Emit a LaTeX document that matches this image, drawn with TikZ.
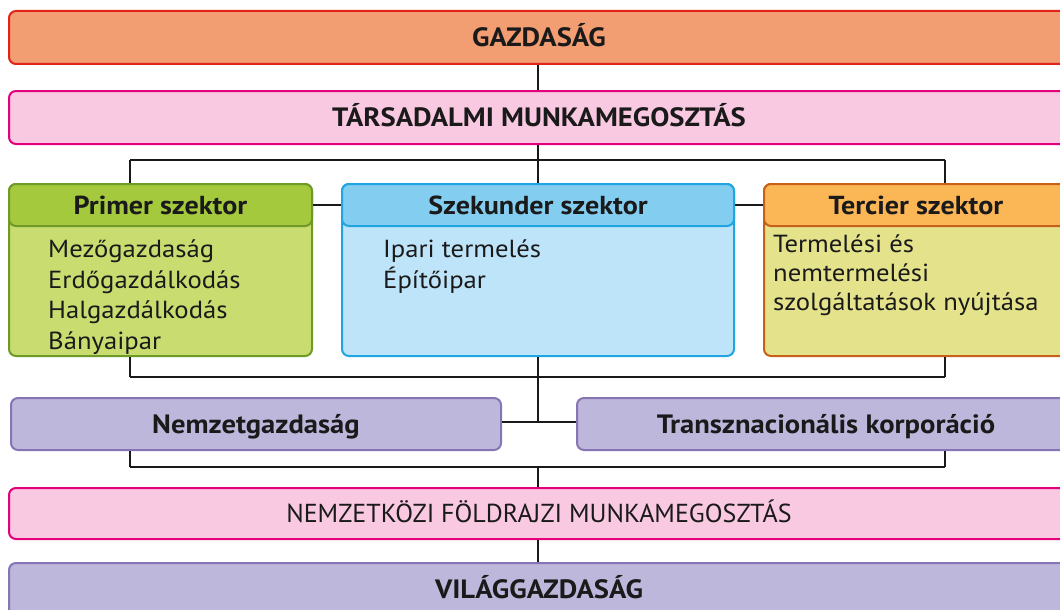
\documentclass[tikz,border=0pt]{standalone}
\usepackage{fontspec}
\setmainfont[FakeStretch=1.08]{PT Sans}
\newfontfamily\regfont{PT Sans}
\definecolor{txt}{HTML}{1A1A1A}
\definecolor{gazfill}{HTML}{F29D72}
\definecolor{gazdraw}{HTML}{E2231A}
\definecolor{pinkfill}{HTML}{F9C9E1}
\definecolor{pinkdraw}{HTML}{E4007D}
\definecolor{lavfill}{HTML}{BEB7DC}
\definecolor{lavdraw}{HTML}{8575B5}
\definecolor{grhead}{HTML}{A5C93D}
\definecolor{grbody}{HTML}{C8DC70}
\definecolor{grdraw}{HTML}{6F9A27}
\definecolor{blhead}{HTML}{83CDF1}
\definecolor{blbody}{HTML}{BEE4F9}
\definecolor{bldraw}{HTML}{20A5E0}
\definecolor{orhead}{HTML}{FBB656}
\definecolor{orbody}{HTML}{E4E38C}
\definecolor{ordraw}{HTML}{C7601B}
\tikzset{
  bar/.style={draw, line width=2pt, rounded corners=7pt, anchor=north west,
    inner sep=0pt, text=txt},
  bartext/.style={font=\bfseries\fontsize{26.5}{28}\selectfont, text height=18.5pt, text depth=0pt},
  conn/.style={draw=black!90, line width=1.6pt},
  bodytext/.style={anchor=north west, inner sep=0pt, align=left, text=txt,
    font=\fontsize{24.7}{30.4}\selectfont},
  headtext/.style={font=\bfseries\fontsize{26}{28}\selectfont, text height=18.2pt, text depth=0pt},
}
\begin{document}
\begin{tikzpicture}[x=1pt,y=-1pt]
\useasboundingbox (0,0) rectangle (1060,610);
\clip (0,0) rectangle (1060,610);
\fill[white] (0,0) rectangle (1060,610);

% connector coordinates
\coordinate (cx) at (538,0);
\coordinate (tl) at (130,160);
\coordinate (tr) at (945,160);
\coordinate (bl) at (130,377);
\coordinate (br) at (945,377);
\coordinate (ml) at (130,467);
\coordinate (mr) at (945,467);
\coordinate (mid) at (538,422);

% bars
\node[bar, fill=gazfill, draw=gazdraw, minimum width=1060pt, minimum height=53pt, bartext] (gaz) at (8,10) {GAZDASÁG};
\node[bar, fill=pinkfill, draw=pinkdraw, minimum width=1060pt, minimum height=53pt, bartext] (tars) at (8,90) {TÁRSADALMI MUNKAMEGOSZTÁS};

% sector boxes
\node[bar, fill=grbody, draw=grdraw, minimum width=303pt, minimum height=172pt] (prim) at (8,183) {};
\node[bar, fill=grhead, draw=grdraw, minimum width=303pt, minimum height=42pt, headtext] (primh) at (8,183) {Primer szektor};
\node[bodytext] (primt) at (48,240) {Mezőgazdaság\\Erdőgazdálkodás\\Halgazdálkodás\\Bányaipar};

\node[bar, fill=blbody, draw=bldraw, minimum width=392pt, minimum height=172pt] (szek) at (341,183) {};
\node[bar, fill=blhead, draw=bldraw, minimum width=392pt, minimum height=42pt, headtext] (szekh) at (341,183) {Szekunder szektor};
\node[bodytext] (szekt) at (383,240) {Ipari termelés\\Építőipar};

\node[bar, fill=orbody, draw=ordraw, minimum width=304pt, minimum height=172pt] (terc) at (763,183) {};
\node[bar, fill=orhead, draw=ordraw, minimum width=304pt, minimum height=42pt, headtext] (terch) at (763,183) {Tercier szektor};
\node[bodytext, font=\fontsize{24.7}{28.6}\selectfont] (terct) at (773,235) {Termelési és\\nemtermelési\\szolgáltatások nyújtása};

% nemzet / transz
\node[bar, fill=lavfill, draw=lavdraw, minimum width=490pt, minimum height=52pt, bartext] (nemz) at (10,397) {Nemzetgazdaság};
\node[bar, fill=lavfill, draw=lavdraw, minimum width=498pt, minimum height=52pt, bartext] (trans) at (576,397) {Transznacionális korporáció};

\node[bar, fill=pinkfill, draw=pinkdraw, minimum width=1060pt, minimum height=51pt, text height=18.2pt, text depth=0pt, font=\regfont\fontsize{26}{28}\selectfont] (nfm) at (8,487) {NEMZETKÖZI FÖLDRAJZI MUNKAMEGOSZTÁS};
\node[bar, fill=lavfill, draw=lavdraw, minimum width=1060pt, minimum height=53pt, bartext] (vil) at (8,562) {VILÁGGAZDASÁG};

% connectors
\draw[conn] (cx |- gaz.south) -- (cx |- tars.north);
\draw[conn] (cx |- tars.south) -- (cx |- szek.north);
\draw[conn] (tl) -- (tr);
\draw[conn] (tl) -- (tl |- prim.north);
\draw[conn] (tr) -- (tr |- terc.north);
\draw[conn] (primh.east) -- (szekh.west);
\draw[conn] (szekh.east) -- (terch.west);
\draw[conn] (bl) -- (bl |- prim.south);
\draw[conn] (br) -- (br |- terc.south);
\draw[conn] (bl) -- (br);
\draw[conn] (cx |- szek.south) -- (mid);
\draw[conn] (nemz.east |- mid) -- (trans.west |- mid);
\draw[conn] (ml) -- (ml |- nemz.south);
\draw[conn] (mr) -- (mr |- trans.south);
\draw[conn] (ml) -- (mr);
\draw[conn] (cx |- ml) -- (cx |- nfm.north);
\draw[conn] (cx |- nfm.south) -- (cx |- vil.north);
\end{tikzpicture}
\end{document}
